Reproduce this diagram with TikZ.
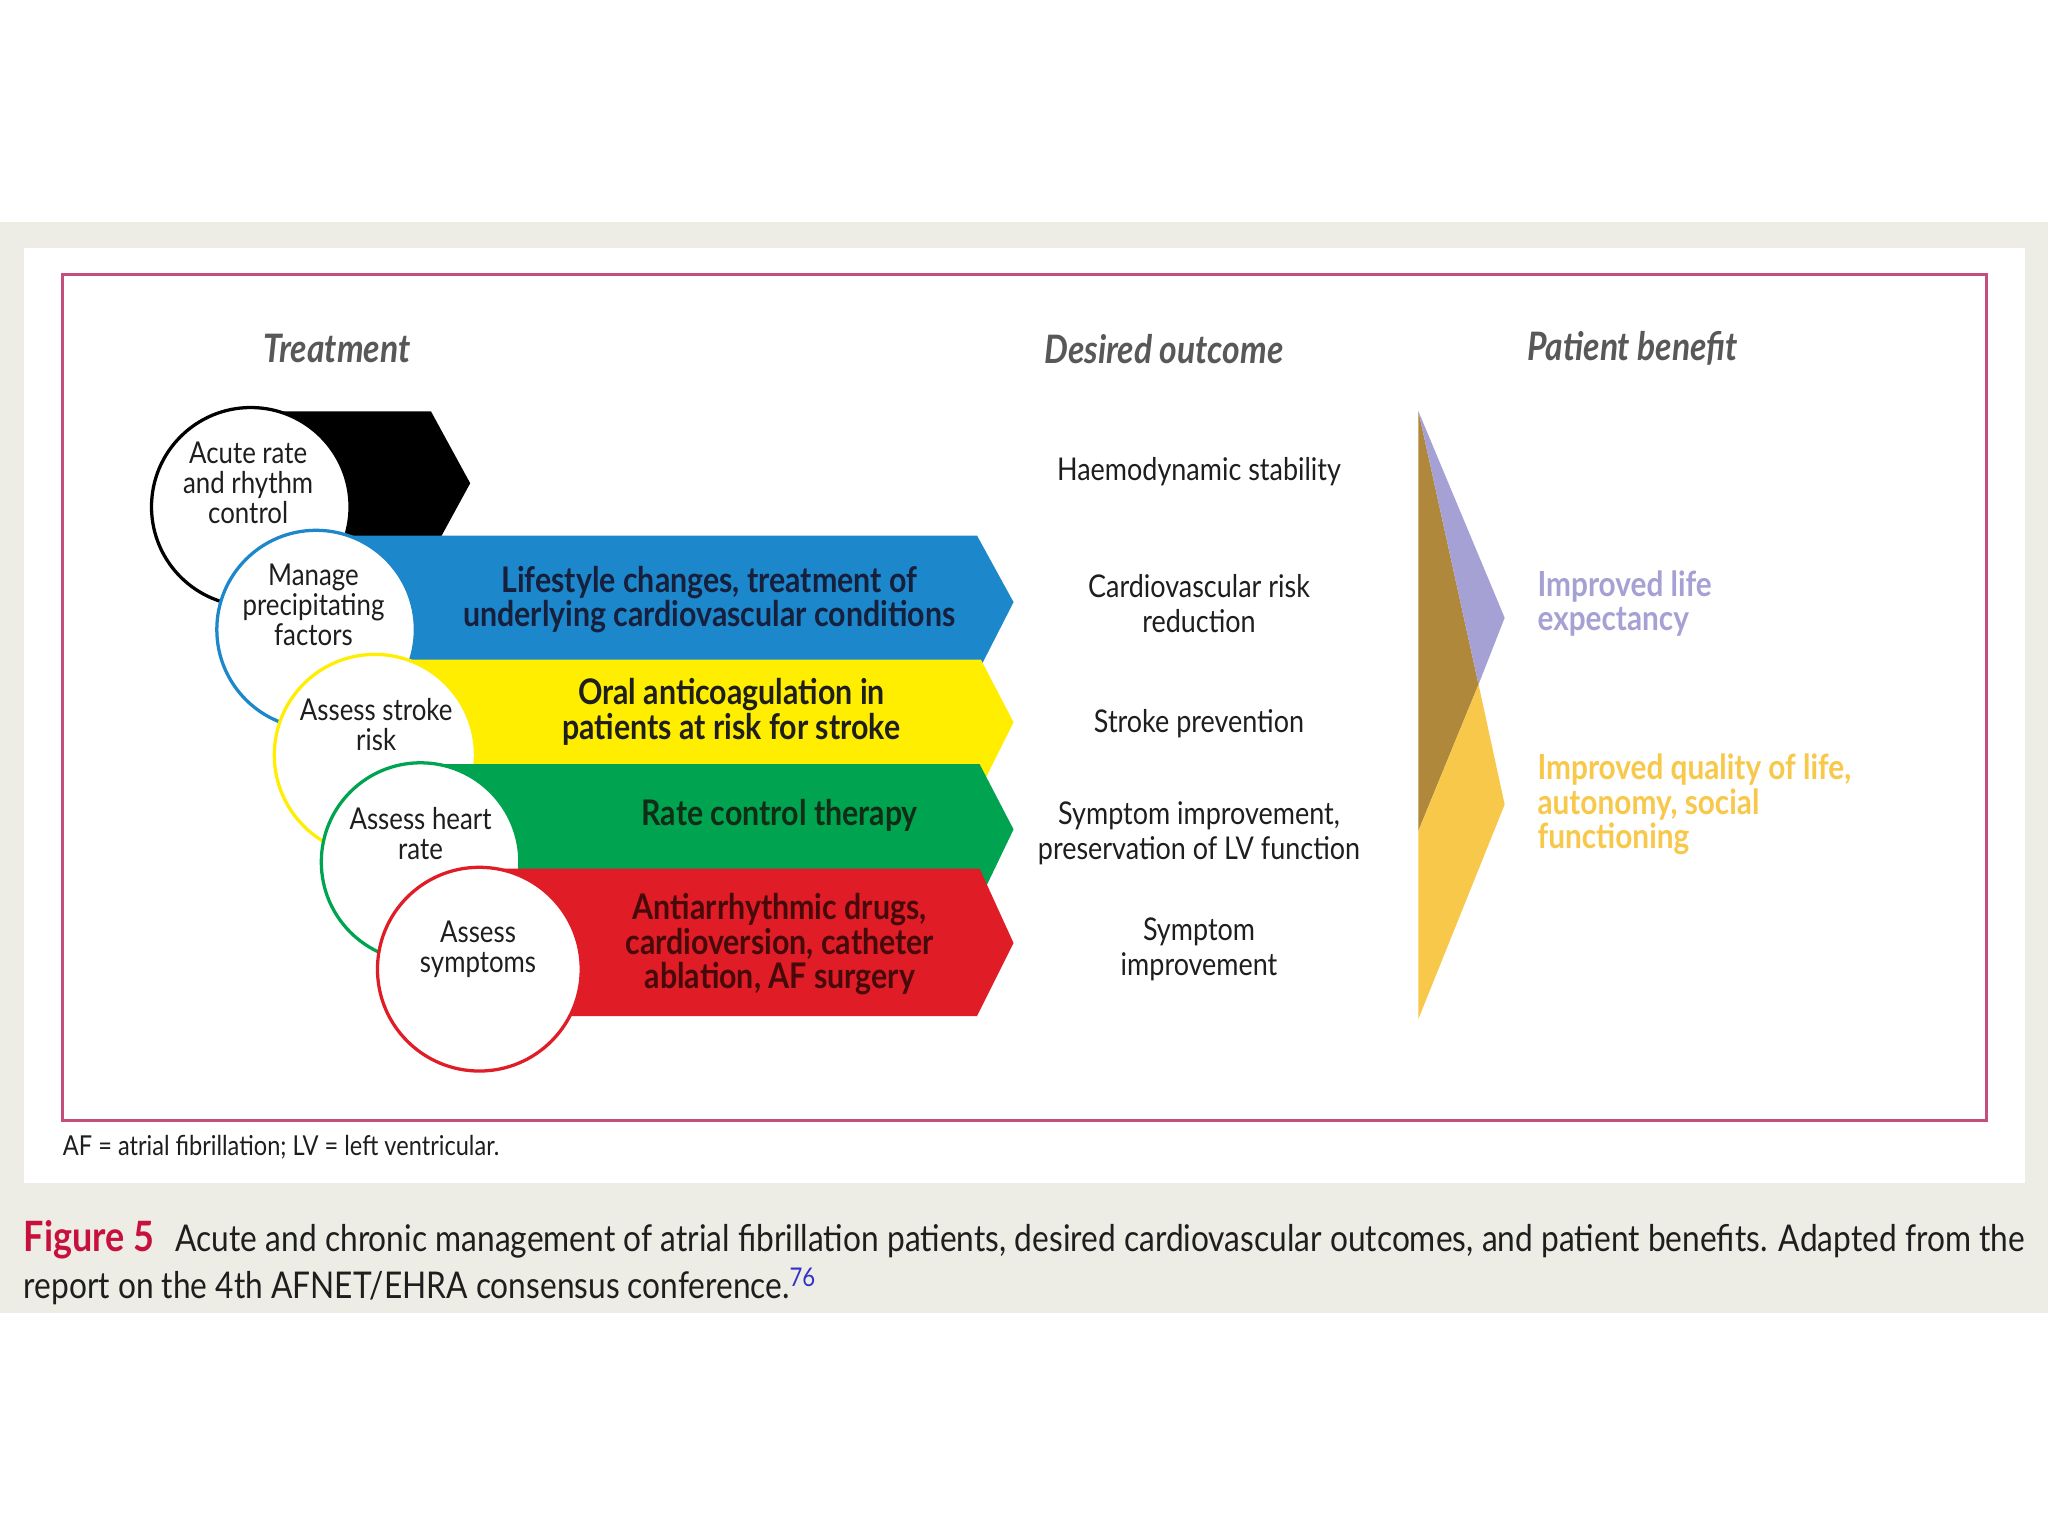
\documentclass[tikz,border=0pt]{standalone}
\usepackage{fontspec}
\setmainfont{Lato}[FakeStretch=0.86]
\definecolor{cblue}{RGB}{28,135,202}
\definecolor{cyel}{RGB}{255,238,0}
\definecolor{cgreen}{RGB}{0,164,80}
\definecolor{cred}{RGB}{224,28,38}
\definecolor{lav}{RGB}{166,161,212}
\definecolor{brn}{RGB}{176,136,60}
\definecolor{gold}{RGB}{248,200,74}
\definecolor{framec}{RGB}{196,78,124}
\definecolor{band}{RGB}{237,237,229}
\definecolor{hdr}{RGB}{88,88,88}
\definecolor{figred}{RGB}{200,16,60}
\definecolor{refblue}{RGB}{50,50,200}
\definecolor{tblue}{RGB}{22,32,60}
\definecolor{tgreen}{RGB}{18,45,22}
\definecolor{tred}{RGB}{70,10,10}
\definecolor{txt}{RGB}{30,30,30}
\tikzset{
  circ/.style={circle, draw=#1, fill=white, line width=2.5pt, inner sep=0pt},
  ctext/.style={align=center, text=txt, font=\fontsize{23}{23}\selectfont, inner sep=0pt},
  atext/.style={align=center, font=\fontsize{27}{26.5}\selectfont\bfseries, inner sep=0pt},
  otext/.style={align=center, text=txt, font=\fontsize{24}{26.5}\selectfont, inner sep=0pt},
  btext/.style={align=left, anchor=west, font=\fontsize{26.5}{26.5}\selectfont\bfseries, inner sep=0pt},
  htext/.style={text=hdr, font=\fontsize{30}{30}\selectfont\bfseries\itshape, inner sep=0pt},
  captext/.style={anchor=base west, inner sep=0pt, text=txt, font=\fontsize{28.2}{30}\selectfont}
}
\begin{document}
\begin{tikzpicture}[x=1pt,y=-1pt]
\useasboundingbox (0,0) rectangle (1568,1176);
\fill[white] (0,0) rectangle (1568,1176);
% background band and panel
\fill[band] (0,170) rectangle (1568,1005);
\fill[white] (18,190) rectangle (1550,906);
\draw[framec, line width=2pt] (48,210) rectangle (1521,858);
% headers
\node[htext] (h1) at (258,267) {Treatment};
\node[htext] (h2) at (891,267) {Desired outcome};
\node[htext] (h3) at (1250,267) {Patient benefit};
% black level
\fill[black] (192,315) -- (330,315) -- (360,370) -- (330,425) -- (192,425) -- cycle;
\node[circ=black, minimum size=152pt] (c1) at (192,388) {};
\node[ctext] (t1) at (190,370) {Acute rate\\and rhythm\\control};
% blue level
\fill[cblue] (242,410) -- (748,410) -- (776,461) -- (750,512) -- (242,512) -- cycle;
\node[circ=cblue, minimum size=152pt] (c2) at (242,482) {};
\node[ctext] (t2) at (240,463) {Manage\\precipitating\\factors};
\node[atext, text=tblue] (a2) at (543,459) {Lifestyle changes, treatment of\\underlying cardiovascular conditions};
% yellow level
\fill[cyel] (287,505) -- (751,505) -- (776,553) -- (752,601) -- (287,601) -- cycle;
\node[circ=cyel, minimum size=154pt] (c3) at (287,578) {};
\node[ctext] (t3) at (288,555) {Assess stroke\\risk};
\node[atext, text=txt] (a3) at (560,545) {Oral anticoagulation in\\patients at risk for stroke};
% green level
\fill[cgreen] (322,585) -- (750,585) -- (776,635) -- (752,685) -- (322,685) -- cycle;
\node[circ=cgreen, minimum size=152pt] (c4) at (322,660) {};
\node[ctext] (t4) at (322,638) {Assess heart\\rate};
\node[atext, text=tgreen] (a4) at (597,624) {Rate control therapy};
% red level
\fill[cred] (367,665) -- (750,665) -- (776,722) -- (748,778) -- (367,778) -- cycle;
\node[circ=cred, minimum size=156pt] (c5) at (367,742) {};
\node[ctext] (t5) at (366,727) {Assess\\symptoms};
\node[atext, text=tred] (a5) at (597,723) {Antiarrhythmic drugs,\\cardioversion, catheter\\ablation, AF surgery};
% desired outcomes
\node[otext] (o1) at (918,361) {Haemodynamic stability};
\node[otext] (o2) at (918,462) {Cardiovascular risk\\reduction};
\node[otext] (o3) at (918,554) {Stroke prevention};
\node[otext] (o4) at (918,638) {Symptom improvement,\\preservation of LV function};
\node[otext] (o5) at (918,727) {Symptom\\improvement};
% patient benefit arrow
\fill[brn] (1086,315) -- (1132,524) -- (1086,636) -- cycle;
\fill[lav] (1086,315) -- (1152,473) -- (1132,524) -- cycle;
\fill[gold] (1132,524) -- (1152,616) -- (1086,780) -- (1086,636) -- cycle;
% benefits
\node[btext, text=lav] (b1) at (1177,462) {Improved life\\expectancy};
\node[btext, text=gold] (b2) at (1177,616) {Improved quality of life,\\autonomy, social\\functioning};
% footnote
\node[anchor=west, inner sep=0pt, text=txt, font=\fontsize{21}{22}\selectfont] (fn) at (48,878) {AF = atrial fibrillation; LV = left ventricular.};
% caption
\node[captext] (cap1) at (18,958) {\makebox[1532pt][s]{\textcolor{figred}{\fontsize{32}{30}\selectfont\bfseries Figure 5}\hspace{10pt} Acute and chronic management of atrial fibrillation patients, desired cardiovascular outcomes, and patient benefits. Adapted from the}};
\node[captext] (cap2) at (18,994) {report on the 4th AFNET/EHRA consensus conference.\textsuperscript{\textcolor{refblue}{76}}};
\end{tikzpicture}
\end{document}
